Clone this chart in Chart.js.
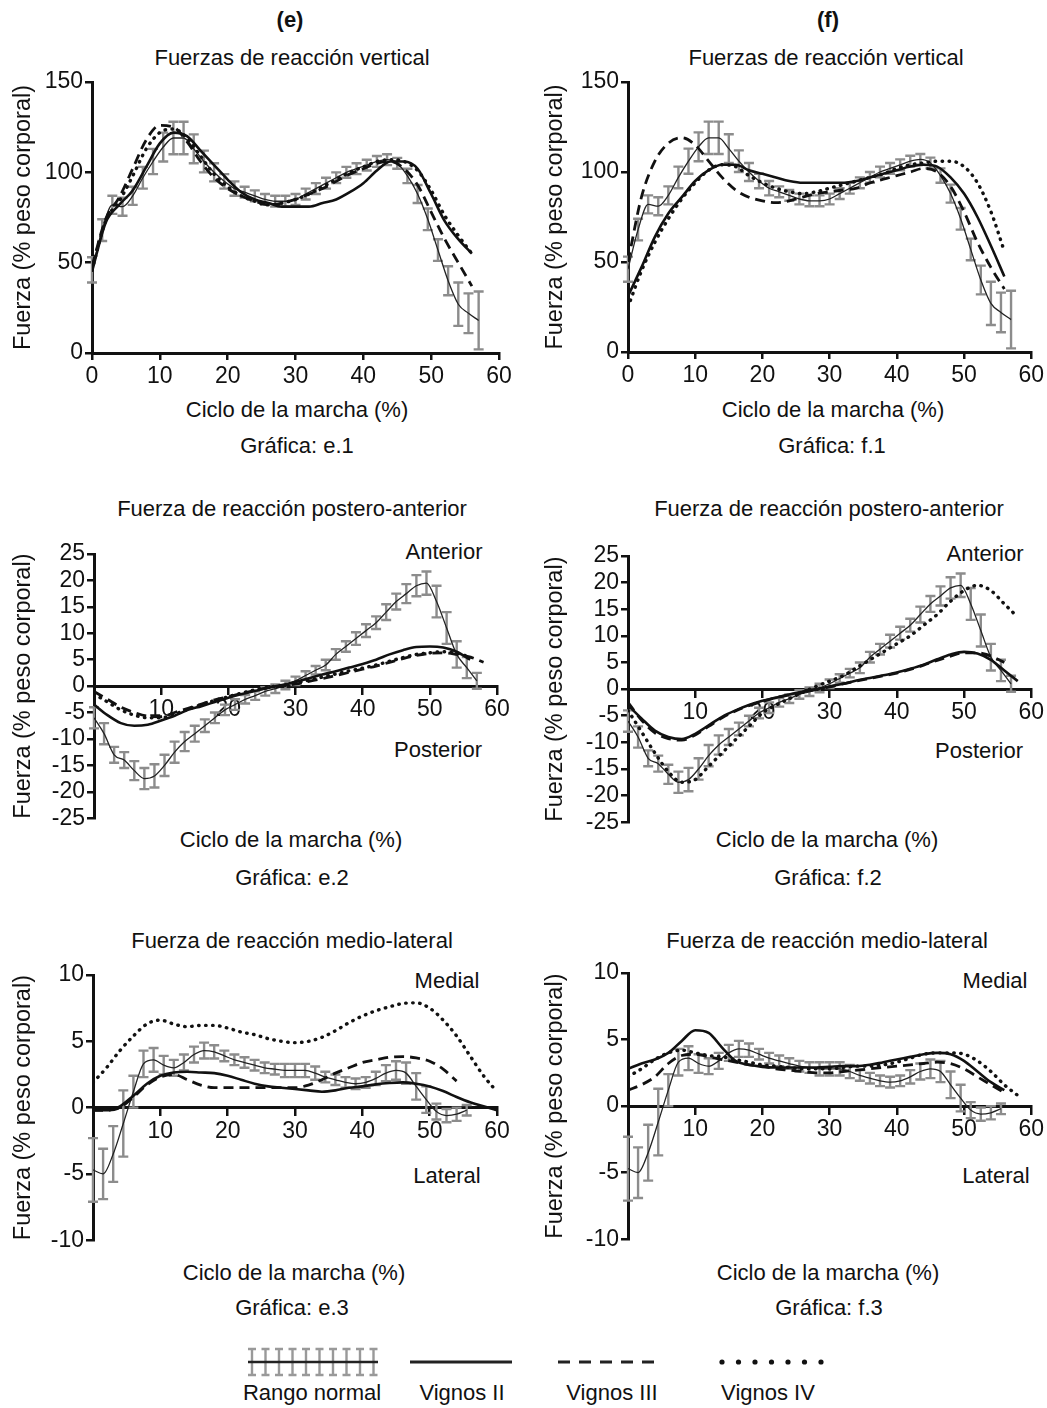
<!DOCTYPE html>
<html>
<head>
<meta charset="utf-8">
<script src="https://cdn.jsdelivr.net/npm/chart.js@4.4.0/dist/chart.umd.min.js"></script>
<style>
    body { margin: 0; background: #fff; width: 1047px; height: 1408px; position: relative; overflow: hidden;
           font-family: "Liberation Sans", Arial, sans-serif; color: #111; }
    .lbl { position: absolute; transform: translate(-50%, -50%); white-space: nowrap; font-size: 22px; }
    .bold { font-weight: bold; }
    .panel { position: absolute; }
    #legend { position: absolute; left: 230px; top: 1340px; }
</style>
</head>
<body>

<div class="lbl bold" style="left:290px;top:20px">(e)</div>
<div class="lbl bold" style="left:828px;top:20px">(f)</div>

<div class="lbl" style="left:292px;top:58px">Fuerzas de reacción vertical</div>
<div class="lbl" style="left:826px;top:58px">Fuerzas de reacción vertical</div>
<div class="lbl" style="left:297px;top:410px">Ciclo de la marcha (%)</div>
<div class="lbl" style="left:833px;top:410px">Ciclo de la marcha (%)</div>
<div class="lbl" style="left:297px;top:446px">Gráfica: e.1</div>
<div class="lbl" style="left:832px;top:446px">Gráfica: f.1</div>

<div class="lbl" style="left:292px;top:509px">Fuerza de reacción postero-anterior</div>
<div class="lbl" style="left:829px;top:509px">Fuerza de reacción postero-anterior</div>
<div class="lbl" style="left:444px;top:552px">Anterior</div>
<div class="lbl" style="left:985px;top:554px">Anterior</div>
<div class="lbl" style="left:438px;top:750px">Posterior</div>
<div class="lbl" style="left:979px;top:751px">Posterior</div>
<div class="lbl" style="left:291px;top:840px">Ciclo de la marcha (%)</div>
<div class="lbl" style="left:827px;top:840px">Ciclo de la marcha (%)</div>
<div class="lbl" style="left:292px;top:878px">Gráfica: e.2</div>
<div class="lbl" style="left:828px;top:878px">Gráfica: f.2</div>

<div class="lbl" style="left:292px;top:941px">Fuerza de reacción medio-lateral</div>
<div class="lbl" style="left:827px;top:941px">Fuerza de reacción medio-lateral</div>
<div class="lbl" style="left:447px;top:981px">Medial</div>
<div class="lbl" style="left:995px;top:981px">Medial</div>
<div class="lbl" style="left:447px;top:1176px">Lateral</div>
<div class="lbl" style="left:996px;top:1176px">Lateral</div>
<div class="lbl" style="left:294px;top:1273px">Ciclo de la marcha (%)</div>
<div class="lbl" style="left:828px;top:1273px">Ciclo de la marcha (%)</div>
<div class="lbl" style="left:292px;top:1308px">Gráfica: e.3</div>
<div class="lbl" style="left:829px;top:1308px">Gráfica: f.3</div>

<canvas id="legend" width="610" height="40"></canvas>
<div class="lbl" style="left:312px;top:1393px">Rango normal</div>
<div class="lbl" style="left:462px;top:1393px">Vignos II</div>
<div class="lbl" style="left:612px;top:1393px">Vignos III</div>
<div class="lbl" style="left:768px;top:1393px">Vignos IV</div>

<script>
// x positions (% of gait cycle)
const normalX = [0, 1.5, 3, 4.5, 6, 7.5, 9, 10.5, 12, 13.5, 15, 16.5, 18, 19.5, 21, 22.5, 24, 25.5, 27, 28.5,
                 30, 31.5, 33, 34.5, 36, 37.5, 39, 40.5, 42, 43.5, 45, 46.5, 48, 49.5, 51, 52.5, 54, 55.5, 57];
const lineX = [0, 2, 4, 6, 8, 10, 12, 14, 16, 18, 20, 22, 24, 26, 28, 30, 32, 34, 36, 38, 40, 42, 44, 46, 48, 50, 52, 54, 56, 58, 60];

// vertical force - normal range (mean and sd)
const vertNormal = [46, 68, 82, 81, 87, 97, 106, 114, 119, 119, 113, 106, 100, 95, 91, 89, 87, 85, 84, 84,
                    85, 88, 91, 94, 97, 100, 102, 104, 106, 107, 105, 98, 88, 74, 57, 40, 27, 22, 18];
const vertSd = [7, 6, 5, 5, 5, 6, 7, 8, 9, 9, 8, 6, 5, 4, 4, 3, 3, 3, 3, 3,
                3, 3, 3, 3, 3, 3, 3, 3, 3, 3, 3, 4, 5, 6, 6, 8, 12, 11, 16];
const e1VignosII  = [45, 72, 82, 90, 103, 116, 122, 120, 112, 104, 96, 89, 85, 83, 81, 81, 81, 83, 85, 89, 94, 101, 106, 106, 102, 88, 73, 63, 55];
const e1VignosIII = [48, 74, 86, 102, 118, 126, 125, 117, 106, 97, 91, 87, 84, 82, 83, 85, 88, 91, 95, 99, 102, 105, 106, 102, 93, 78, 63, 50, 37];
const e1VignosIV  = [46, 73, 84, 98, 113, 122, 124, 119, 109, 99, 92, 87, 84, 82, 83, 85, 88, 92, 96, 100, 103, 106, 107, 106, 101, 90, 76, 65, 55];
const f1VignosII  = [31, 47, 64, 77, 86, 95, 101, 104, 104, 101, 99, 97, 95, 94, 94, 94, 94, 95, 97, 99, 101, 103, 104, 103, 97, 88, 75, 59, 42];
const f1VignosIII = [50, 86, 106, 116, 119, 115, 106, 97, 90, 86, 84, 83, 84, 86, 88, 89, 90, 91, 94, 96, 98, 100, 102, 100, 92, 78, 61, 47, 35];
const f1VignosIV  = [25, 45, 61, 74, 85, 94, 101, 104, 103, 98, 94, 91, 89, 88, 89, 91, 93, 95, 97, 99, 102, 104, 105, 106, 106, 103, 94, 78, 56];

// postero-anterior force
const apNormal = [-6, -9, -13, -14, -16, -17.5, -17, -15, -12.5, -10.5, -9, -7.5, -6, -4.5, -3.5, -2.5, -1.8, -1, -0.5, 0.2,
                  1, 2, 3, 4, 6, 7.5, 9, 10.5, 12, 14, 16, 17.5, 19, 19.5, 16, 11, 6, 3.5, 1];
const apSd = [2, 2, 1.5, 1.5, 1.8, 2, 2.2, 2, 2, 1.8, 1.5, 1.2, 1, 1, 1, 0.8, 0.8, 0.8, 0.8, 0.8,
              0.8, 0.8, 0.8, 1, 1, 1, 1.2, 1.2, 1.2, 1.5, 1.5, 1.8, 2, 2.2, 3, 3, 2.5, 2, 1.5];
const e2VignosII  = [-3.5, -5.5, -7, -7.5, -7.3, -6.5, -5.6, -4.5, -3.8, -3, -2.2, -1.5, -0.9, -0.3, 0.2, 0.8, 1.5, 2.2, 2.8, 3.5, 4.2, 5, 6, 6.8, 7.4, 7.5, 7.3, 6.5, 5];
const e2VignosIII = [-1, -2.5, -4, -5, -5.7, -5.8, -5, -4.2, -3.4, -2.6, -2, -1.4, -0.8, -0.3, 0, 0.4, 0.9, 1.4, 2, 2.6, 3.2, 3.8, 4.5, 5.2, 5.8, 6.2, 6.3, 6, 5.5, 4.5];
const e2VignosIV  = [-1.5, -3, -4.5, -5.5, -6, -6, -5.3, -4.4, -3.5, -2.7, -2, -1.3, -0.7, -0.2, 0.1, 0.6, 1.1, 1.7, 2.3, 2.9, 3.4, 4, 4.7, 5.4, 6, 6.3, 6.5, 6.2, 5.5];
const f2VignosII  = [-3, -5.5, -7.8, -9, -9.4, -8.4, -6.8, -5.2, -4, -3, -2.2, -1.6, -1, -0.5, 0, 0.5, 1, 1.6, 2.1, 2.6, 3.1, 3.8, 4.6, 5.6, 6.5, 7, 6.7, 5.5, 3.5, 1.5];
const f2VignosIII = [-2.5, -5.8, -8.2, -9.3, -9.6, -8.6, -7, -5.4, -4.1, -3.1, -2.3, -1.6, -1.1, -0.6, -0.1, 0.4, 1, 1.5, 2, 2.5, 3, 3.7, 4.5, 5.4, 6.2, 6.8, 6.8, 6.2, 5];
const f2VignosIV  = [-4, -8, -12, -15.5, -17.5, -17, -14.5, -12, -9.5, -7, -4.5, -3, -1.8, -0.6, 0.5, 1.5, 2.5, 4, 5.5, 7, 8.5, 10, 12, 14, 16.5, 18.5, 19.5, 18.5, 16, 13.5];

// medio-lateral force
const mlNormal = [-4.7, -5, -3.5, -1.2, 1.2, 3.3, 3.6, 3.2, 3, 3.4, 4, 4.3, 4.2, 3.9, 3.6, 3.4, 3.2, 3, 2.9, 2.8,
                  2.8, 2.8, 2.6, 2.3, 2.1, 1.9, 1.8, 1.9, 2.2, 2.6, 2.8, 2.6, 1.6, 0.6, -0.3, -0.6, -0.5, -0.2];
const mlSd = [2.4, 1.9, 2.1, 2.5, 1.2, 1, 0.9, 0.7, 0.6, 0.6, 0.6, 0.6, 0.5, 0.4, 0.4, 0.4, 0.4, 0.4, 0.4, 0.5,
              0.5, 0.5, 0.5, 0.4, 0.4, 0.4, 0.4, 0.4, 0.5, 0.6, 0.7, 0.8, 1, 1, 0.6, 0.5, 0.5, 0.4];
const e3VignosII  = [-0.2, -0.2, 0.1, 0.9, 1.8, 2.4, 2.65, 2.7, 2.65, 2.6, 2.4, 2.1, 1.8, 1.6, 1.5, 1.4, 1.3, 1.2, 1.3, 1.5, 1.6, 1.75, 1.85, 1.9, 1.8, 1.6, 1.25, 0.8, 0.4, 0.1, -0.2];
const e3VignosIII = [-0.2, -0.2, 0, 0.8, 1.7, 2.3, 2.5, 2.1, 1.7, 1.5, 1.5, 1.5, 1.5, 1.5, 1.5, 1.5, 1.7, 2.1, 2.6, 3, 3.4, 3.6, 3.8, 3.85, 3.75, 3.5, 2.9, 2];
const e3VignosIV  = [1.9, 3, 4.3, 5.4, 6.3, 6.6, 6.3, 6.1, 6.2, 6.2, 6, 5.7, 5.5, 5.2, 5, 4.9, 5, 5.3, 5.8, 6.4, 6.9, 7.3, 7.6, 7.85, 7.9, 7.5, 6.6, 5.4, 3.9, 2.4, 1.2];
const f3VignosII  = [2.8, 3.2, 3.5, 4, 4.9, 5.7, 5.5, 4.4, 3.4, 3.1, 2.95, 2.9, 2.9, 2.9, 2.9, 2.95, 3, 3, 3.1, 3.3, 3.5, 3.7, 3.9, 4, 3.9, 3.4, 2.6, 1.8, 1.2];
const f3VignosIII = [1.2, 1.6, 2.2, 3.2, 3.8, 3.9, 3.7, 3.5, 3.3, 3.1, 3, 2.8, 2.7, 2.6, 2.5, 2.5, 2.6, 2.7, 2.8, 2.9, 3, 3.1, 3.2, 3.3, 3.2, 2.8, 2.2, 1.6, 1];
const f3VignosIV  = [2.2, 2.8, 3.5, 4, 4.2, 4, 3.8, 3.7, 3.5, 3.3, 3.1, 3, 2.9, 2.8, 2.8, 2.8, 2.9, 3, 3, 3.1, 3.3, 3.6, 3.9, 4, 4, 3.9, 3.4, 2.6, 1.6, 0.8];

const FONT = '"Liberation Sans", Arial, sans-serif';
Chart.defaults.font.family = FONT;
Chart.defaults.color = '#111';

const pts = (xs, ys) => ys.map((v, i) => ({ x: xs[i], y: v }));

// grey error bars of the normal range, drawn under the lines
function errorBars(xs, mean, sd) {
    return {
        id: 'errorBars',
        beforeDatasetsDraw(chart) {
            const { ctx, scales: { x, y } } = chart;
            ctx.save();
            ctx.strokeStyle = '#8c8c8c';
            ctx.lineWidth = 2.4;
            mean.forEach((m, i) => {
                const px = x.getPixelForValue(xs[i]);
                const top = y.getPixelForValue(m + sd[i]);
                const bot = y.getPixelForValue(m - sd[i]);
                ctx.beginPath();
                ctx.moveTo(px, top); ctx.lineTo(px, bot);
                ctx.moveTo(px - 5, top); ctx.lineTo(px + 5, top);
                ctx.moveTo(px - 5, bot); ctx.lineTo(px + 5, bot);
                ctx.stroke();
            });
            ctx.restore();
        }
    };
}

function makePanel(box, area, yOpts, normal, sd, series, axisAtZero) {
    const canvas = document.createElement('canvas');
    canvas.className = 'panel';
    const top = area.t - 22;
    const bottomPad = axisAtZero ? 14 : 0;
    const xHeight = axisAtZero ? 0 : 44;
    const right = Math.min(area.r + 24, 1047);
    canvas.style.left = box + 'px';
    canvas.style.top = top + 'px';
    canvas.width = right - box;
    canvas.height = area.b + xHeight + bottomPad - top;
    canvas.style.width = canvas.width + 'px';
    canvas.style.height = canvas.height + 'px';
    document.body.appendChild(canvas);

    const lineStyle = (label, data, dash, width, cap) => ({
        label: label,
        data: pts(lineX, data),
        borderColor: '#111',
        borderWidth: width,
        borderDash: dash,
        borderCapStyle: cap,
        pointRadius: 0,
        cubicInterpolationMode: 'monotone',
        fill: false
    });

    const tickGrid = { display: true, drawOnChartArea: false, drawTicks: true, tickLength: 7, color: '#111', lineWidth: 2.5 };

    new Chart(canvas, {
        type: 'line',
        data: {
            datasets: [
                lineStyle('Vignos II', series[0], [], 2.6, 'butt'),
                lineStyle('Vignos III', series[1], [10, 6], 2.8, 'butt'),
                lineStyle('Vignos IV', series[2], [0.5, 6.5], 3.4, 'round'),
                {
                    label: 'Rango normal',
                    data: pts(normalX, normal),
                    borderColor: '#222',
                    borderWidth: 1.3,
                    pointRadius: 0,
                    cubicInterpolationMode: 'monotone',
                    fill: false
                }
            ]
        },
        options: {
            responsive: false,
            animation: false,
            layout: { padding: { top: 22, right: right - area.r, bottom: bottomPad, left: 0 } },
            plugins: { legend: { display: false }, tooltip: { enabled: false } },
            scales: {
                x: {
                    type: 'linear',
                    min: 0, max: 60,
                    position: axisAtZero ? { y: 0 } : 'bottom',
                    afterFit: s => { if (!axisAtZero) s.height = xHeight; },
                    ticks: {
                        stepSize: 10,
                        autoSkip: false,
                        maxRotation: 0,
                        padding: 3,
                        font: { size: 23 },
                        color: '#111',
                        callback: v => (axisAtZero && v === 0) ? '' : v
                    },
                    grid: tickGrid,
                    border: { display: true, color: '#111', width: 3 }
                },
                y: {
                    min: yOpts.min, max: yOpts.max,
                    afterFit: s => { s.width = area.l - box; },
                    ticks: { stepSize: yOpts.step, autoSkip: false, padding: 2, font: { size: 23 }, color: '#111' },
                    grid: tickGrid,
                    border: { display: true, color: '#111', width: 3 },
                    title: {
                        display: true,
                        text: 'Fuerza (% peso corporal)',
                        font: { size: 23.5 },
                        color: '#111',
                        padding: { top: 9, bottom: 0 }
                    }
                }
            }
        },
        plugins: [errorBars(normalX, normal, sd)]
    });
}

const vertY = { min: 0, max: 150, step: 50 };
const apY = { min: -25, max: 25, step: 5 };
const mlY = { min: -10, max: 10, step: 5 };

makePanel(0, { l: 92, r: 499, t: 82, b: 353 }, vertY, vertNormal, vertSd, [e1VignosII, e1VignosIII, e1VignosIV], false);
makePanel(532, { l: 628, r: 1035, t: 82, b: 352 }, vertY, vertNormal, vertSd, [f1VignosII, f1VignosIII, f1VignosIV], false);
makePanel(0, { l: 94, r: 497, t: 554, b: 820 }, apY, apNormal, apSd, [e2VignosII, e2VignosIII, e2VignosIV], true);
makePanel(532, { l: 628, r: 1033, t: 556, b: 824 }, apY, apNormal, apSd, [f2VignosII, f2VignosIII, f2VignosIV], true);
makePanel(0, { l: 93, r: 497, t: 975, b: 1242 }, mlY, mlNormal, mlSd, [e3VignosII, e3VignosIII, e3VignosIV], true);
makePanel(532, { l: 628, r: 1034, t: 973, b: 1241 }, mlY, mlNormal, mlSd, [f3VignosII, f3VignosIII, f3VignosIV], true);

// legend glyphs
const lg = document.getElementById('legend').getContext('2d');
const ly = 22;
lg.strokeStyle = '#999'; lg.lineWidth = 2.4;
for (let i = 0; i < 10; i++) {
    const px = 22 + i * 13.5;
    lg.beginPath();
    lg.moveTo(px, ly - 13); lg.lineTo(px, ly + 13);
    lg.moveTo(px - 4, ly - 13); lg.lineTo(px + 4, ly - 13);
    lg.moveTo(px - 4, ly + 13); lg.lineTo(px + 4, ly + 13);
    lg.stroke();
}
lg.strokeStyle = '#222'; lg.lineWidth = 2.5;
lg.beginPath(); lg.moveTo(18, ly); lg.lineTo(148, ly); lg.stroke();
lg.lineWidth = 3;
lg.beginPath(); lg.moveTo(180, ly); lg.lineTo(282, ly); lg.stroke();
lg.setLineDash([12, 9]);
lg.beginPath(); lg.moveTo(328, ly); lg.lineTo(432, ly); lg.stroke();
lg.setLineDash([]);
lg.fillStyle = '#111';
for (let i = 0; i < 7; i++) {
    lg.beginPath(); lg.arc(492 + i * 16.5, ly, 2.6, 0, Math.PI * 2); lg.fill();
}
</script>
</body>
</html>
